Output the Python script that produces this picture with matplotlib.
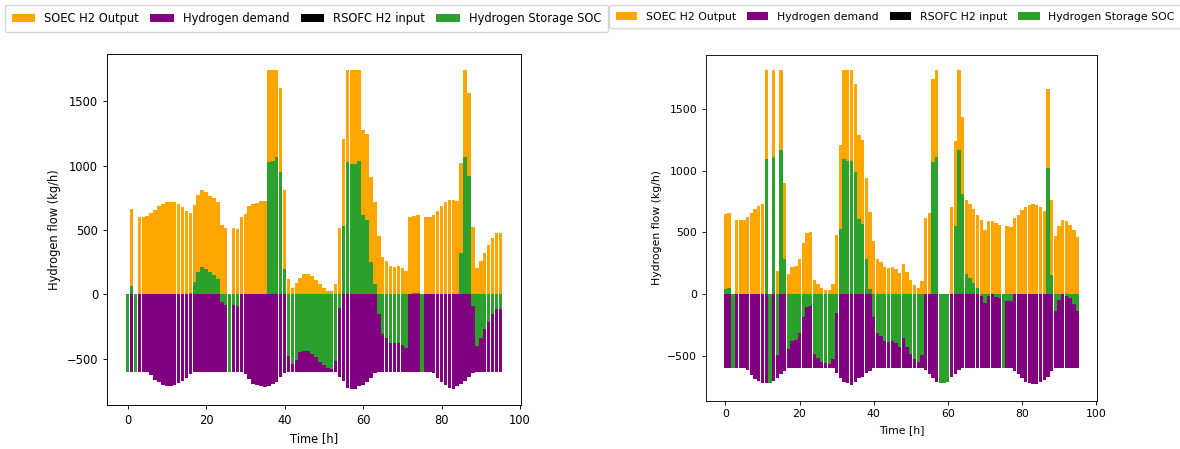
import matplotlib
matplotlib.use("Agg")
import matplotlib.pyplot as plt
import numpy as np

hours = list(range(96))
legend_labels = ["SOEC H2 Output", "Hydrogen demand", "RSOFC H2 input", "Hydrogen Storage SOC"]
colors = ["orange", "purple", "black", "#2ca02c"]

# ---- Left chart ----
soec_left = [0, 663, 0, 599, 602, 609, 630, 656, 687, 702, 718, 718, 715, 700, 679, 648,
             632, 695, 772, 811, 796, 767, 749, 718, 539, 518, 0, 518, 508, 604, 627, 687,
             702, 708, 723, 723, 1744, 1744, 1744, 1602, 811, 117, 47, 86, 124, 158,
             160, 140, 110, 82, 50, 30, 26, 80, 516, 1205, 1744, 1744, 1744, 1744, 1275, 1247,
             910, 715, 453, 293, 259, 220, 215, 220, 205, 179, 599, 606, 614, 0,
             599, 599, 614, 648, 687, 715, 731, 731, 723, 1019, 1744, 1568, 526, 202, 259, 319,
             384, 441, 480, 480]
demand_left = [600, 600, 600, 600, 600, 600, 627, 661, 684, 705, 713, 713, 705, 687, 671, 648,
               619, 600, 600, 600, 600, 600, 600, 600, 600, 600, 600, 600, 600, 600, 619, 658,
               692, 700, 713, 720, 713, 697, 679, 645, 614, 600, 600, 600, 600, 600, 600, 600,
               600, 600, 600, 600, 600, 600, 640, 674, 727, 733, 735, 715, 700, 680, 650, 614,
               600, 600, 600, 600, 600, 600, 600, 600, 600, 600, 600, 600, 600, 600, 614, 648,
               679, 705, 726, 731, 715, 692, 671, 640, 610, 600, 600, 600, 600, 600, 600, 600]
rsofc_left = [0] * 96
storage_left = [-600, 65, -600, 0, 0, 0, 0, 0, 0, 0, 0, 0, 0, 0, 0, 0,
                15, 96, 176, 212, 200, 174, 150, 119, -57, -83, -600, -83, -88, 0, 0, 0,
                0, 0, 0, 0, 1029, 1039, 1065, 951, 194, -480, -544, -511, -446, -436, -440, -460,
                -486, -525, -552, -568, -577, -520, -109, 534, 1029, 1013, 1010, 1036, 617, 575, 254, 80,
                -155, -308, -342, -376, -376, -381, -394, -420, 5, 10, 15, -600, 0, 0, 0, 0,
                0, 0, 0, 0, 0, 319, 1065, 923, -88, -399, -342, -272, -215, -153, -117, -117]

# ---- Right chart ----
soec_right = [646, 654, 0, 600, 600, 600, 622, 660, 689, 714, 730, 1816, 0, 1816, 186, 1816,
              903, 159, 216, 227, 281, 416, 492, 500, 114, 81, 51, 32, 32, 81, 478, 1208,
              1816, 1816, 1816, 1705, 1289, 1249, 943, 665, 431, 281, 259, 222, 208, 216, 200, 168,
              243, 178, 114, 73, 49, 105, 619, 657, 1743, 1816, 0, 0, 0, 708, 1241, 1816,
              1435, 760, 728, 690, 640, 600, 520, 595, 590, 573, 562, 0, 549, 541, 616, 643,
              684, 708, 724, 730, 722, 708, 676, 1662, 762, 468, 554, 600, 595, 562, 519, 465]
demand_right = [600, 600, 600, 600, 600, 600, 616, 657, 689, 705, 719, 724, 719, 703, 678, 649,
                622, 600, 600, 600, 600, 600, 600, 600, 600, 600, 600, 600, 600, 600, 643, 684,
                711, 724, 738, 711, 684, 670, 643, 624, 600, 600, 600, 600, 600, 600, 600, 600,
                600, 600, 600, 600, 600, 600, 616, 651, 684, 711, 719, 724, 711, 676, 649, 616,
                600, 600, 600, 600, 600, 600, 600, 600, 600, 600, 600, 600, 600, 600, 622, 649,
                684, 711, 724, 730, 730, 716, 697, 670, 627, 600, 600, 600, 600, 600, 600, 600]
rsofc_right = [0] * 96
storage_right = [41, 51, -600, 0, 0, 0, 0, 0, 0, 0, 0, 1095, -719, 1111, -492, 1170,
                 284, -443, -381, -373, -319, -184, -108, -97, -487, -516, -549, -562, -568, -527, -151, 527,
                 1095, 1081, 1078, 989, 611, 565, 281, 38, -184, -319, -341, -381, -389, -378, -400, -427,
                 -359, -427, -489, -527, -549, -495, 0, 0, 1070, 1108, -719, -724, -711, 0, 554, 1170,
                 812, 160, 130, 92, 52, -14, -70, -20, 0, -27, -35, -600, -54, -59, 0, 0,
                 0, 0, 0, 0, 0, 0, 0, 1019, 154, -135, -49, 0, -14, -32, -81, -135]

W, H = 1180, 449
fig = plt.figure(figsize=(W / 100, H / 100), dpi=100)


def px_axes(x0, x1, y0, y1):
    return fig.add_axes([x0 / W, 1 - y1 / H, (x1 - x0) / W, (y1 - y0) / H])


def draw(ax, soec, demand, rsofc, storage, fs, leg_x):
    x = np.array(hours)
    h1 = ax.bar(x, soec, width=0.9, color=colors[0], label=legend_labels[0])
    h2 = ax.bar(x, -np.array(demand), width=0.9, color=colors[1], label=legend_labels[1])
    h3 = ax.bar(x, rsofc, width=0.9, color=colors[2], label=legend_labels[2])
    h4 = ax.bar(x, storage, width=0.9, color=colors[3], label=legend_labels[3])
    ax.set_xlabel("Time [h]", fontsize=fs)
    ax.set_ylabel("Hydrogen flow (kg/h)", fontsize=fs)
    ax.set_xticks([0, 20, 40, 60, 80, 100])
    ax.set_yticks([-500, 0, 500, 1000, 1500])
    ax.tick_params(labelsize=fs, length=3.5 * fs / 10, width=0.8 * fs / 10)
    for s in ax.spines.values():
        s.set_linewidth(0.8 * fs / 10)
    ax.legend(handles=[h1, h2, h3, h4], ncol=4, loc="upper left",
              bbox_to_anchor=(leg_x / W, 1 - 5 / H), bbox_transform=fig.transFigure,
              fontsize=fs, borderaxespad=0, columnspacing=1.0, borderpad=0.6)


axL = px_axes(107, 521, 54, 405)
draw(axL, soec_left, demand_left, rsofc_left, storage_left, 8.3, 5)
axR = px_axes(706, 1097, 54.5, 400.7)
draw(axR, soec_right, demand_right, rsofc_right, storage_right, 7.8, 609)

fig.savefig("out.png", dpi=100)
